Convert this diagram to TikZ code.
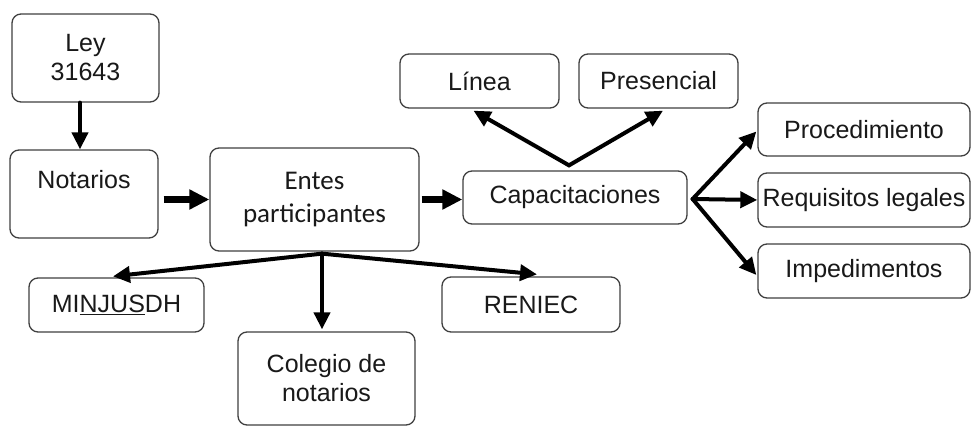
\documentclass[tikz,border=0pt]{standalone}
\usepackage{fontspec}
\setmainfont{Liberation Sans}
\newfontfamily\calib{Carlito}
\usetikzlibrary{arrows.meta,calc}
\begin{document}
\begin{tikzpicture}[x=1pt,y=-1pt,
  box/.style={draw=black!75, line width=1.3pt, rounded corners=9pt, inner sep=2pt,
    align=center, font=\fontsize{25}{29}\selectfont, text=black!90},
  txt/.style={inner sep=0pt, align=center, font=\fontsize{25}{29}\selectfont, text=black!90},
  arr/.style={line width=4pt, line cap=round, -{Triangle[length=17pt,width=16pt]}},
  twoarr/.style={line width=4pt, {Triangle[length=17pt,width=16pt]}-{Triangle[length=17pt,width=16pt]}},
  thickarr/.style={line width=6.5pt, -{Triangle[length=20pt,width=19pt]}}]
\fill[white] (0,0) rectangle (972,427);
\useasboundingbox (0,0) rectangle (972,427);

\node[box, minimum width=147pt, minimum height=88pt] (ley) at (85.5,58) {Ley\\31643};
\node[box, minimum width=148pt, minimum height=88pt] (notarios) at (84,194) {};
\node[txt] (notariostxt) at (84,180) {Notarios};
\node[box, font=\calib\fontsize{27}{33}\selectfont, minimum width=209pt, minimum height=103pt] (entes) at (314.5,199.5) {Entes\\participantes};
\node[box, minimum width=224pt, minimum height=53pt] (cap) at (575,197.5) {Capacitaciones};
\node[box, minimum width=159pt, minimum height=54pt] (linea) at (479.5,81) {Línea};
\node[box, minimum width=159pt, minimum height=54pt] (pres) at (658.5,81) {Presencial};
\node[box, minimum width=212pt, minimum height=53pt] (proc) at (864,129.5) {Procedimiento};
\node[box, minimum width=212pt, minimum height=54pt] (req) at (864,200) {Requisitos legales};
\node[box, minimum width=212pt, minimum height=54pt] (imp) at (864,271) {Impedimentos};
\node[box, minimum width=175pt, minimum height=54pt] (min) at (116.5,305) {MI\underline{NJUS}DH};
\node[box, minimum width=177pt, minimum height=93pt] (col) at (326.5,378.5) {Colegio de\\notarios};
\node[box, minimum width=178pt, minimum height=55pt] (ren) at (531,304.5) {RENIEC};

\draw[arr] ($(ley.south)+(-5.5,0)$) -- ($(notarios.north)+(-4,0)$);
\draw[thickarr] ($(notarios.east |- entes.west)+(5,0)$) -- (entes.west);
\draw[thickarr] ($(entes.east)+(2,0)$) -- (cap.west |- entes.east);

\coordinate (capup) at ($(cap.north)+(-6,-5)$);
\draw[twoarr] ($(linea.south)+(-6,2)$) -- (capup) -- ($(pres.south)+(4.5,2)$);

\coordinate (capright) at ($(cap.east)+(5,1.5)$);
\draw[arr] (capright) -- ($(proc.west)+(-1,2)$);
\draw[arr] (capright) -- (req.west);
\draw[arr] (capright) -- ($(imp.west)+(-1,4)$);

\coordinate (entesdown) at ($(entes.south)+(7.5,2)$);
\draw[arr] (entesdown) -- ($(min.north)+(-3.5,-1)$);
\draw[arr] (entesdown) -- ($(col.north -| entesdown)+(0,-2)$);
\draw[arr] (entesdown) -- ($(ren.north)+(6,-2)$);
\end{tikzpicture}
\end{document}
